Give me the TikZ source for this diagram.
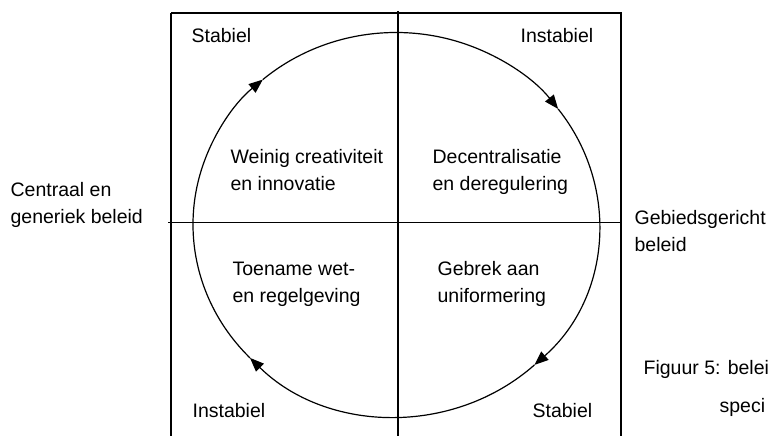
\documentclass[tikz,border=0pt]{standalone}
\usepackage{fontspec}
\setmainfont{Liberation Sans}
\usetikzlibrary{arrows.meta}
\begin{document}
\begin{tikzpicture}[x=1pt,y=-1pt,line width=1.2pt,
  lbl/.style={anchor=base west,inner sep=0pt,font=\fontsize{19.5}{24}\selectfont},
  circarrow/.style={-{Triangle[length=14pt,width=11pt]}}]
\clip (0,0) rectangle (771,436);
% frame and axes
\draw (171,13) -- (621,13) -- (621,445);
\draw (171,13) -- (171,445);
\draw (398,11) -- (398,445);
\draw (168,222.5) -- (621,222.5);
% circle with clockwise arrows
\def\cx{396}\def\cy{224.5}\def\rx{203}\def\ry{192}
\draw[circarrow] ({\cx+\rx*cos(224)},{\cy-\ry*sin(224)}) arc[start angle=-224,end angle=-131,x radius=\rx,y radius=\ry];
\draw[circarrow] ({\cx+\rx*cos(131)},{\cy-\ry*sin(131)}) arc[start angle=-131,end angle=-37,x radius=\rx,y radius=\ry];
\draw[circarrow] ({\cx+\rx*cos(37)},{\cy-\ry*sin(37)}) arc[start angle=-37,end angle=47,x radius=\rx,y radius=\ry];
\draw[circarrow] ({\cx+\rx*cos(-47)},{\cy-\ry*sin(-47)}) arc[start angle=47,end angle=136,x radius=\rx,y radius=\ry];
% labels
\node[lbl] (s1) at (191,43) {Stabiel};
\node[lbl] (i1) at (520,43) {Instabiel};
\node[lbl] (w1) at (230,163) {Weinig creativiteit};
\node[lbl] (w2) at (230,190) {en innovatie};
\node[lbl] (d1) at (432,163) {Decentralisatie};
\node[lbl] (d2) at (432,190) {en deregulering};
\node[lbl] (c1) at (10,196) {Centraal en};
\node[lbl] (c2) at (10,223) {generiek beleid};
\node[lbl] (g1) at (634,224) {Gebiedsgericht};
\node[lbl] (g2) at (634,251) {beleid};
\node[lbl] (t1) at (232,275) {Toename wet-};
\node[lbl] (t2) at (232,302) {en regelgeving};
\node[lbl] (b1) at (437,275) {Gebrek aan};
\node[lbl] (b2) at (437,302) {uniformering};
\node[lbl] (f1) at (643,374) {Figuur 5: belei};
\node[lbl] (f2) at (719,412) {speci};
\node[lbl] (i2) at (192,417) {Instabiel};
\node[lbl] (s2) at (532,417) {Stabiel};
\end{tikzpicture}
\end{document}
